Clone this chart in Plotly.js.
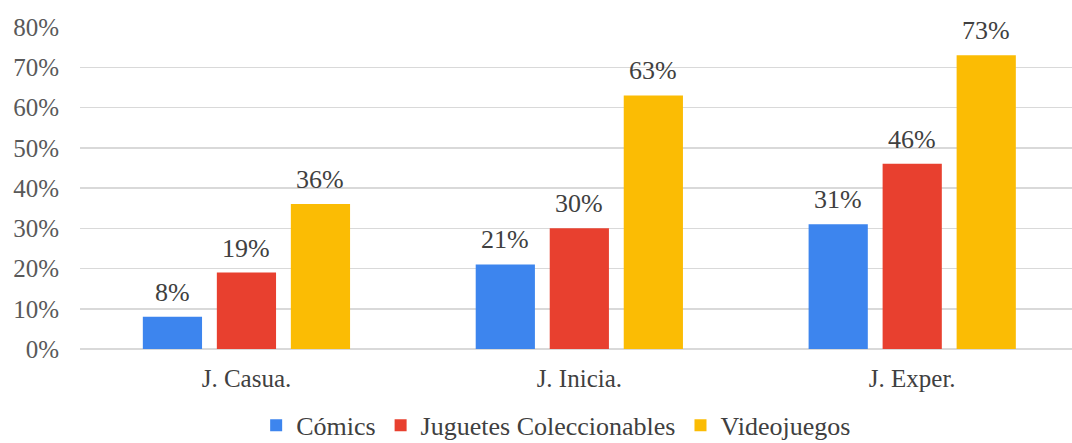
<!DOCTYPE html>
<html><head><meta charset="utf-8">
<script src="https://cdn.plot.ly/plotly-3.0.1.min.js"></script>
<style>html,body{margin:0;padding:0;background:#fff}#chart{width:1072px;height:443px}</style>
</head><body><div id="chart"></div>
<script>
const categories = ["J. Casua.", "J. Inicia.", "J. Exper."];
const seriesNames = ["Cómics", "Juguetes Coleccionables", "Videojuegos"];
const comics = [0.08, 0.21, 0.31];
const juguetes = [0.19, 0.30, 0.46];
const videojuegos = [0.36, 0.63, 0.73];
const yTickVals = [0, 0.1, 0.2, 0.3, 0.4, 0.5, 0.6, 0.7, 0.8];
const yTickText = ["0%", "10%", "20%", "30%", "40%", "50%", "60%", "70%", "80%"];

const colors = ["#3d85ee", "#e8402f", "#fbbc04"];
const allSeries = [comics, juguetes, videojuegos];
const font = "Liberation Serif";
const slotShift = [-74, 0, 74];

const traces = allSeries.map((vals, i) => ({
  type: "bar",
  name: seriesNames[i],
  x: categories,
  y: vals,
  marker: {color: colors[i]},
  hoverinfo: "skip"
}));

const annotations = [];
allSeries.forEach((vals, i) => {
  vals.forEach((v, j) => {
    annotations.push({
      x: categories[j], y: v, xref: "x", yref: "y",
      text: Math.round(v * 100) + "%",
      showarrow: false, yanchor: "bottom", xanchor: "center",
      xshift: slotShift[i], yshift: 8,
      font: {family: font, size: 26, color: "#404040"}
    });
  });
});

const layout = {
  width: 1072, height: 443,
  margin: {l: 80, r: 0, t: 27, b: 94},
  paper_bgcolor: "#fff", plot_bgcolor: "#fff",
  font: {family: font},
  barmode: "group",
  bargap: 0.333,
  bargroupgap: 0.2,
  showlegend: true,
  annotations: annotations,
  legend: {orientation: "h", x: 0.48, xanchor: "center", yref: "container", y: 0.04, yanchor: "middle",
           font: {family: font, size: 26, color: "#404040"}, itemwidth: 30, traceorder: "normal"},
  xaxis: {type: "category", range: [-0.5, 2.48], showgrid: false, zeroline: false, showline: false,
          ticks: "", tickfont: {family: font, size: 25, color: "#404040"}, ticklabelstandoff: 12},
  yaxis: {range: [0, 0.8], tickvals: yTickVals, ticktext: yTickText, showgrid: true,
          gridcolor: "#d9d9d9", gridwidth: 1.5, zeroline: true, zerolinecolor: "#d9d9d9", zerolinewidth: 1.5,
          showline: false, ticks: "", tickfont: {family: font, size: 25, color: "#595959"}, ticklabelstandoff: 20}
};

Plotly.newPlot("chart", traces, layout, {displayModeBar: false, staticPlot: true});
</script></body></html>
